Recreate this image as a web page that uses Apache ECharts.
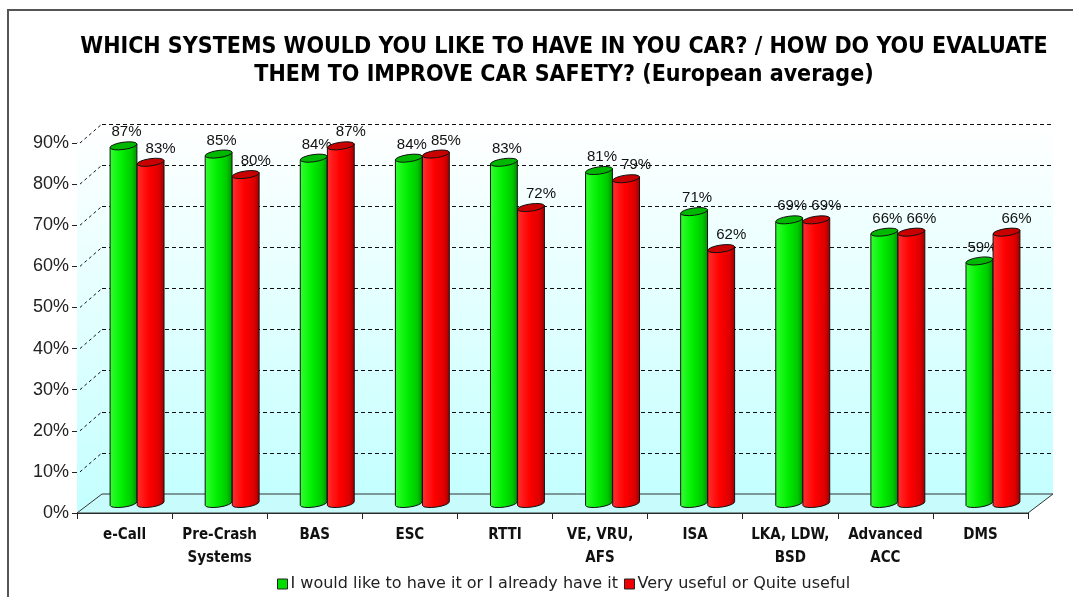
<!DOCTYPE html>
<html>
<head>
<meta charset="utf-8">
<script src="https://cdn.jsdelivr.net/npm/echarts@6/dist/echarts.min.js"></script>
<style>
  html, body { margin: 0; padding: 0; background: #fff; }
  #chart { width: 1073px; height: 597px; }
</style>
</head>
<body>
<div id="chart"></div>
<script>
// Survey results: share of respondents per in-car safety system
const categories = ['e-Call', 'Pre-Crash\nSystems', 'BAS', 'ESC', 'RTTI', 'VE, VRU,\nAFS', 'ISA', 'LKA, LDW,\nBSD', 'Advanced\nACC', 'DMS'];
const wantIt = [87, 85, 84, 84, 83, 81, 71, 69, 66, 59];
const useful = [83, 80, 87, 85, 72, 79, 62, 69, 66, 66];
const seriesNames = ['I would like to have it or I already have it', 'Very useful or Quite useful'];
const yTicks = [0, 10, 20, 30, 40, 50, 60, 70, 80, 90];

// front plane of the 3D box and its depth offset
const FRONT = { left: 77, right: 45, top: 143, bottom: 84 };
const DEPTH = { dx: 25, dy: -19 };
const shifted = (f) => ({
  left: FRONT.left + DEPTH.dx * f,
  right: FRONT.right - DEPTH.dx * f,
  top: FRONT.top + DEPTH.dy * f,
  bottom: FRONT.bottom - DEPTH.dy * f
});
const BACK = shifted(1);
const MID = shifted(0.5);

const FONT = "'Liberation Sans', Arial, sans-serif";
const WIDE = "'DejaVu Sans', Verdana, sans-serif";
const NARROW = "'Liberation Sans Narrow', 'Arial Narrow', 'DejaVu Sans Condensed', sans-serif";

const wallFill = () => new echarts.graphic.LinearGradient(0, 0, 0, 1, [
  { offset: 0, color: '#ffffff' },
  { offset: 1, color: '#c4ffff' }
]);

const BAR_COLORS = [
  { body: ['#33ff33', '#00ee00', '#00c800', '#008a00'], top: '#00b800', legend: '#00dd00' },
  { body: ['#ff3030', '#ff0000', '#dd0000', '#990000'], top: '#c80000', legend: '#ee0000' }
];
const TILT = -8; // degrees, slant of the cylinder ends

function cylinderItem(seriesIdx) {
  return function (params, api) {
    const i = api.value(0), v = api.value(1);
    const top = api.coord([i, v]);
    const base = api.coord([i, 0]);
    const band = api.size([1, 0])[0];
    const w = band * 0.285;
    const cx = seriesIdx === 0 ? top[0] - w / 2 : top[0] + w / 2;
    const rx = w / 2, ry = 3.6;
    const t = TILT * Math.PI / 180;
    const a = rx * Math.cos(t), b = -rx * Math.sin(t);
    const yT = top[1], yB = base[1];
    const c = BAR_COLORS[seriesIdx];
    const bodyPath =
      `M${cx - a},${yT + b} L${cx - a},${yB + b} ` +
      `A${rx},${ry} ${TILT} 0 0 ${cx + a},${yB - b} ` +
      `L${cx + a},${yT - b} Z`;
    const topPath =
      `M${cx - a},${yT + b} A${rx},${ry} ${TILT} 0 1 ${cx + a},${yT - b} ` +
      `A${rx},${ry} ${TILT} 0 1 ${cx - a},${yT + b} Z`;
    const labelDx = seriesIdx === 0 ? 3 : 10;
    return {
      type: 'group',
      children: [
        {
          type: 'path',
          shape: { pathData: bodyPath },
          style: {
            fill: new echarts.graphic.LinearGradient(0, 0, 1, 0, [
              { offset: 0, color: c.body[0] },
              { offset: 0.45, color: c.body[1] },
              { offset: 0.8, color: c.body[2] },
              { offset: 1, color: c.body[3] }
            ]),
            stroke: '#111', lineWidth: 1
          }
        },
        {
          type: 'path',
          shape: { pathData: topPath },
          style: { fill: c.top, stroke: '#111', lineWidth: 1 }
        },
        {
          type: 'text',
          style: {
            text: v + '%',
            x: cx + labelDx, y: yT - 6,
            align: 'center', verticalAlign: 'bottom',
            font: '15px ' + FONT, fill: '#111'
          }
        }
      ]
    };
  };
}

// side wall, floor and the dashed tick connectors of the 3D frame
function frameItem(params, api) {
  const cs = params.coordSys;
  const v = api.value(0);
  const y = api.coord([0, v])[1];
  const x0 = cs.x, x1 = cs.x + cs.width;
  const yb = cs.y + cs.height, yt = cs.y;
  const dx = DEPTH.dx, dy = DEPTH.dy;
  const children = [];
  if (params.dataIndex === 0) {
    children.push({
      type: 'polygon',
      shape: { points: [[x0, yb], [x0 + dx, yb + dy], [x0 + dx, yt + dy], [x0, yt]] },
      style: { fill: wallFill() },
      z2: 0
    });
    children.push({
      type: 'polygon',
      shape: { points: [[x0, yb], [x0 + dx, yb + dy], [x1 + dx, yb + dy], [x1, yb]] },
      style: { fill: '#c8fcfc', stroke: '#333', lineWidth: 1 },
      z2: 1
    });
  } else {
    children.push({
      type: 'line',
      shape: { x1: x0 + 3, y1: y, x2: x0 + dx, y2: y + dy },
      style: { stroke: '#111', lineWidth: 1, lineDash: [3, 3] },
      z2: 2
    });
  }
  return { type: 'group', children };
}

const chart = echarts.init(document.getElementById('chart'), null, { renderer: 'canvas' });

chart.setOption({
  animation: false,
  backgroundColor: '#ffffff',
  title: {
    text: 'WHICH SYSTEMS WOULD YOU LIKE TO HAVE IN YOU CAR? / HOW DO YOU EVALUATE\nTHEM TO IMPROVE CAR SAFETY? (European average)',
    left: 559, top: 28, textAlign: 'center',
    textStyle: { fontFamily: NARROW, fontWeight: 'bold', fontSize: 23, lineHeight: 28, color: '#000' }
  },
  legend: {
    bottom: 0, left: 272,
    icon: 'rect', itemWidth: 10, itemHeight: 10, itemGap: 6,
    itemStyle: { borderColor: '#222', borderWidth: 1 },
    textStyle: { fontFamily: WIDE, fontSize: 16, color: '#222', padding: [0, 0, 0, -2] },
    data: seriesNames
  },
  graphic: [{
    type: 'rect', silent: true,
    shape: { x: 8, y: 10, width: 1100, height: 620 },
    style: { fill: null, stroke: '#555', lineWidth: 2 }
  }],
  grid: [
    Object.assign({ show: false }, FRONT),
    Object.assign({ show: true, backgroundColor: wallFill(), borderWidth: 0 }, BACK),
    Object.assign({ show: false }, MID)
  ],
  xAxis: [
    {
      gridIndex: 0, type: 'category', data: categories,
      axisLine: { show: true, lineStyle: { color: '#222', width: 1 } },
      axisTick: { show: true, length: 6, lineStyle: { color: '#222' } },
      axisLabel: {
        interval: 0, margin: 11, color: '#111',
        fontFamily: NARROW, fontWeight: 'bold', fontSize: 15, lineHeight: 23
      }
    },
    { gridIndex: 1, type: 'category', data: categories, show: false },
    { gridIndex: 2, type: 'category', data: categories, show: false }
  ],
  yAxis: [
    {
      gridIndex: 0, type: 'value', min: 0, max: 90, interval: 10,
      axisLine: { show: true, lineStyle: { color: '#222', width: 1 } },
      axisTick: { show: true, length: 5, lineStyle: { color: '#222' } },
      splitLine: { show: false },
      axisLabel: { formatter: '{value}%', fontFamily: FONT, fontSize: 18, color: '#222', margin: 8 }
    },
    {
      gridIndex: 1, type: 'value', min: 0, max: 90, interval: 10,
      axisLine: { show: false }, axisTick: { show: false }, axisLabel: { show: false },
      splitLine: { show: true, lineStyle: { color: '#111', width: 1, type: [4, 3] } }
    },
    { gridIndex: 2, type: 'value', min: 0, max: 90, interval: 10, show: false, splitLine: { show: false } }
  ],
  series: [
    {
      type: 'custom', name: 'frame', xAxisIndex: 0, yAxisIndex: 0, z: 1, silent: true,
      renderItem: frameItem,
      data: yTicks.map(v => [v])
    },
    {
      type: 'custom', name: seriesNames[0], xAxisIndex: 2, yAxisIndex: 2, z: 3,
      itemStyle: { color: BAR_COLORS[0].legend },
      renderItem: cylinderItem(0),
      data: wantIt.map((v, i) => [i, v])
    },
    {
      type: 'custom', name: seriesNames[1], xAxisIndex: 2, yAxisIndex: 2, z: 3,
      itemStyle: { color: BAR_COLORS[1].legend },
      renderItem: cylinderItem(1),
      data: useful.map((v, i) => [i, v])
    }
  ]
});
</script>
</body>
</html>
